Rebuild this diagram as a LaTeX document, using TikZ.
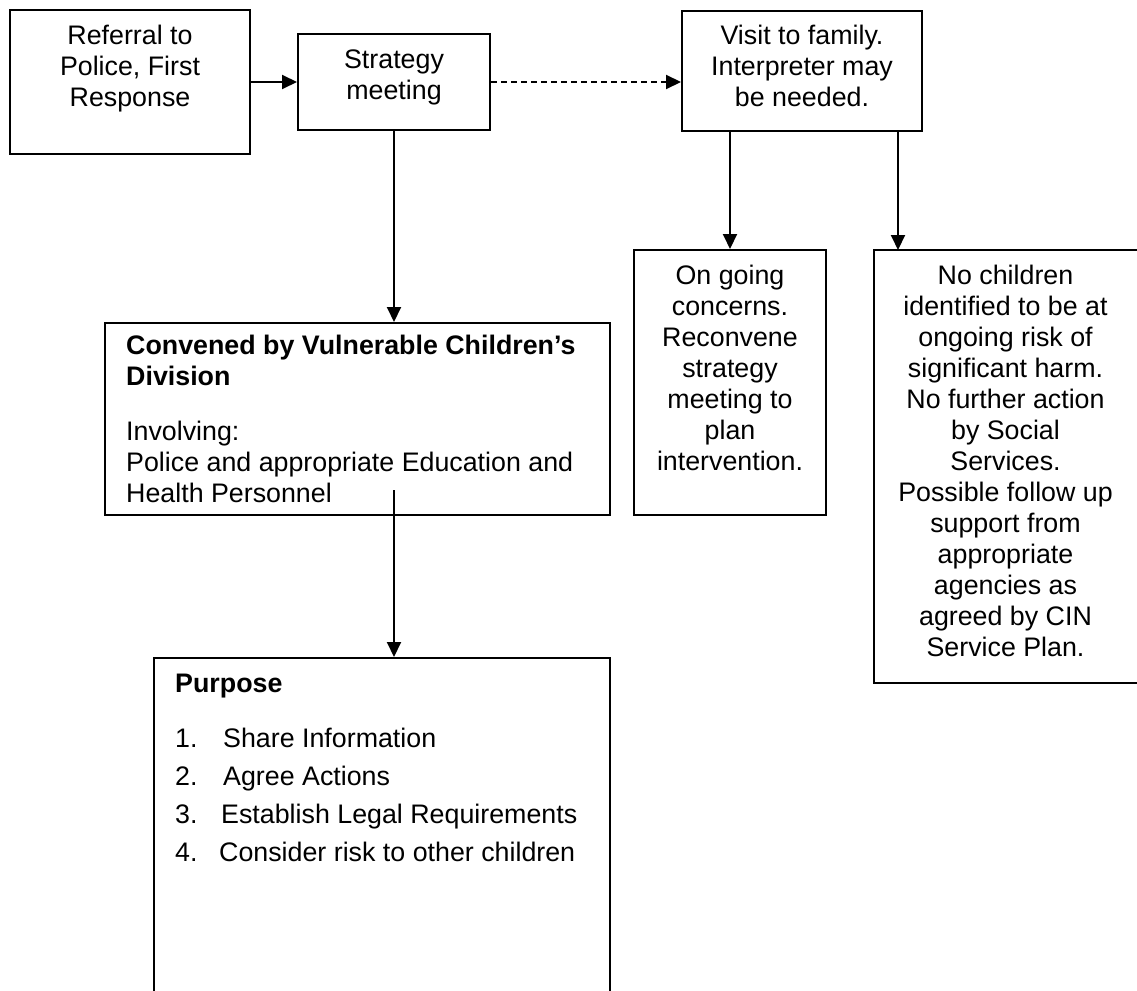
\documentclass[tikz,border=0pt]{standalone}
\usepackage{fontspec}
\setmainfont{Liberation Sans}
\usetikzlibrary{arrows.meta}
\newcommand\myfs{\fontsize{26.8}{31}\selectfont}
\begin{document}
\begin{tikzpicture}[x=1pt,y=-1pt,
  box/.style={draw, line width=2pt, rectangle, inner sep=0pt},
  txt/.style={inner sep=0pt, font=\myfs, anchor=north},
  conn/.style={line width=2pt, -{Triangle[length=15pt,width=14pt]}}]
\useasboundingbox (0,0) rectangle (1137,990);
% boxes
\node[box, minimum width=240pt, minimum height=144pt] (b1) at (130,82) {};
\node[box, minimum width=192pt, minimum height=96pt] (b2) at (394,82) {};
\node[box, minimum width=240pt, minimum height=120pt] (b3) at (802,71) {};
\node[box, minimum width=505pt, minimum height=192pt] (conv) at (357.5,419) {};
\node[box, minimum width=192pt, minimum height=265pt] (ong) at (730,382.5) {};
\node[box, minimum width=276pt, minimum height=433pt] (nch) at (1012,466.5) {};
\node[box, minimum width=456pt, minimum height=342pt] (purp) at (382,829) {};
% texts
\node[txt, align=center] (t1) at (130,25) {Referral to\\Police, First\\Response};
\node[txt, align=center] (t2) at (394,50) {Strategy\\meeting};
\node[txt, align=center] (t3) at (802,25) {Visit to family.\\Interpreter may\\be needed.};
\node[txt, align=center] (t4) at (730,265) {On going\\concerns.\\Reconvene\\strategy\\meeting to\\plan\\intervention.};
\node[txt, align=center] (t5) at (1005.5,265) {No children\\identified to be at\\ongoing risk of\\significant harm.\\No further action\\by Social\\Services.\\Possible follow up\\support from\\appropriate\\agencies as\\agreed by CIN\\Service Plan.};
\node[txt, align=left, anchor=north west] (t6) at (126,335) {\textbf{Convened by Vulnerable Children’s}\\\textbf{Division}\\[24pt]Involving:\\Police and appropriate Education and\\Health Personnel};
\node[txt, align=left, anchor=north west] (t7) at (175,674) {\textbf{Purpose}\\[24pt]\makebox[48pt][l]{1.}Share Information\\[7pt]\makebox[48pt][l]{2.}Agree Actions\\[7pt]\makebox[46pt][l]{3.}Establish Legal Requirements\\[7pt]\makebox[44pt][l]{4.}Consider risk to other children};
% helper coordinates
\coordinate (cstart) at (394,490);
\coordinate (nctop) at (898,250);
% connectors
\draw[conn] (b1) -- (b2);
\draw[conn, dash pattern=on 6pt off 4pt] (b2.east) -- (b2.east -| b3.west);
\draw[conn] (b2.south) -- (b2.south |- conv.north);
\draw[conn] (cstart) -- (cstart |- purp.north);
\draw[conn] (b3.south -| ong.north) -- (ong.north);
\draw[conn] (b3.south -| nctop) -- (nctop);
\end{tikzpicture}
\end{document}
